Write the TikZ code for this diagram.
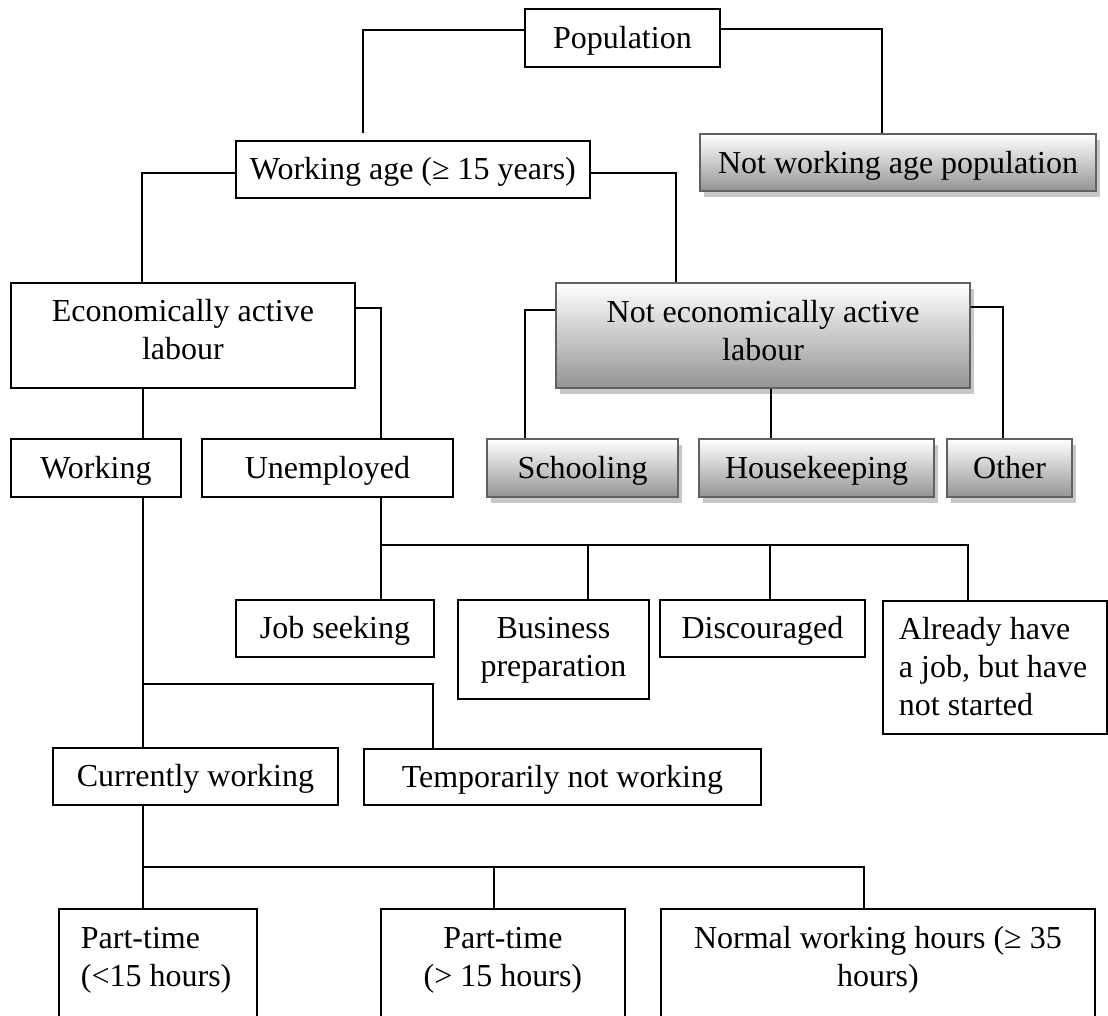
\documentclass[tikz,border=0pt]{standalone}
\usepackage{fontspec}
\setmainfont{Liberation Serif}
\usetikzlibrary{calc,shadows}
\begin{document}
\begin{tikzpicture}[x=0.5pt,y=-0.5pt,
  every node/.style={font=\fontsize{16pt}{19pt}\selectfont},
  sbox/.style={draw, line width=0.9pt, anchor=north west, inner sep=0pt, text height=10.5pt, text depth=0pt},
  mbox/.style={draw, line width=0.9pt, anchor=north west, inner ysep=0pt},
  shd/.style={top color=white, bottom color=black!42, draw=black!62, line width=1.1pt,
    drop shadow={shadow xshift=2pt, shadow yshift=-3pt, fill=black!22, opacity=1}},
  conn/.style={line width=0.9pt, line join=miter}]
\useasboundingbox (0,0) rectangle (1108,1016);
\clip (0,0) rectangle (1108,1016);

% boxes
\node[sbox, minimum width=97.5pt, minimum height=29pt] (pop) at (524,8) {Population};
\node[sbox, minimum width=177pt, minimum height=28.5pt] (wage) at (235,140) {Working age (≥ 15 years)};
\node[sbox, shd, minimum width=198pt, minimum height=28.5pt] (nwage) at (699,133) {Not working age population};

\node[mbox, inner xsep=6pt, text width=160pt, align=flush center, text height=19.5pt, text depth=33pt] (eco) at (10,282) {Economically active\\labour};
\node[mbox, shd, inner xsep=6pt, text width=195pt, align=flush center, text height=19.5pt, text depth=33pt] (necon) at (555,282) {Not economically active\\labour};

\node[sbox, minimum width=85pt, minimum height=29pt] (work) at (10,438) {Working};
\node[sbox, minimum width=125.5pt, minimum height=29pt] (unemp) at (201,438) {Unemployed};
\node[sbox, shd, minimum width=95.5pt, minimum height=29pt] (school) at (486,438) {Schooling};
\node[sbox, shd, minimum width=117.5pt, minimum height=29pt] (house) at (698,438) {Housekeeping};
\node[sbox, shd, minimum width=62.5pt, minimum height=29pt] (other) at (946,438) {Other};

\node[sbox, minimum width=99pt, minimum height=28.5pt] (jobs) at (235,599) {Job seeking};
\node[mbox, inner xsep=4pt, text width=87.5pt, align=flush center, text height=19.5pt, text depth=30pt] (bus) at (457,599) {Business\\preparation};
\node[sbox, minimum width=102.5pt, minimum height=28.5pt] (disc) at (659,599) {Discouraged};
\node[mbox, inner xsep=4pt, text width=104pt, align=flush left, text height=19.5pt, text depth=47pt] (alr) at (882,600) {\hspace*{4pt}Already have\\\hspace*{4pt}a job, but have\\\hspace*{4pt}not started};

\node[sbox, minimum width=142.5pt, minimum height=28.5pt] (curw) at (52,747) {Currently working};
\node[sbox, minimum width=198.5pt, minimum height=28pt] (temp) at (363,748) {Temporarily not working};

\node[mbox, inner xsep=11pt, text width=77pt, align=flush left, text height=20pt, text depth=38pt] (pt1) at (58,908) {Part-time\\(<15 hours)};
\node[mbox, inner xsep=6pt, text width=110pt, align=flush center, text height=20pt, text depth=38pt] (pt2) at (380,908) {Part-time\\(> 15 hours)};
\node[mbox, inner xsep=8pt, text width=201pt, align=flush center, text height=20pt, text depth=38pt] (norm) at (660,908) {Normal working hours (≥ 35\\hours)};

% connectors
\draw[conn] ($(pop.north west)+(0,22)$) -| ($(wage.north west)+(128,-7)$);
\draw[conn] ($(pop.north east)+(0,21)$) -| ($(nwage.north west)+(183,0)$);
\draw[conn] ($(wage.north west)+(0,33)$) -| ($(eco.north west)+(132,0)$);
\draw[conn] ($(wage.north east)+(0,33)$) -| ($(necon.north west)+(121,0)$);

\draw[conn] ($(eco.south west)+(133,0)$) -- ($(work.north west)+(133,0)$);
\draw[conn] ($(eco.north east)+(0,26)$) -| ($(unemp.north west)+(180,0)$);

\draw[conn] ($(necon.north west)+(0,28)$) -| ($(school.north west)+(39,0)$);
\draw[conn] ($(necon.south west)+(216,0)$) -- ($(house.north west)+(73,0)$);
\draw[conn] ($(necon.north east)+(0,25)$) -| ($(other.north west)+(57,0)$);

\coordinate (uj) at ($(unemp.south west)+(180,47)$);
\coordinate (busT) at ($(bus.north west)+(131,0)$);
\coordinate (discT) at ($(disc.north west)+(111,0)$);
\draw[conn] ($(unemp.south west)+(180,0)$) -- ($(jobs.north west)+(146,0)$);
\draw[conn] (uj) -| ($(alr.north west)+(86,0)$);
\draw[conn] (busT |- uj) -- (busT);
\draw[conn] (discT |- uj) -- (discT);

\coordinate (wj) at ($(work.south west)+(133,186)$);
\draw[conn] ($(work.south west)+(133,0)$) -- ($(curw.north west)+(91,0)$);
\draw[conn] (wj) -| ($(temp.north west)+(70,0)$);

\coordinate (cj) at ($(curw.south west)+(91,61)$);
\coordinate (pt2T) at ($(pt2.north west)+(114,0)$);
\draw[conn] ($(curw.south west)+(91,0)$) -- ($(pt1.north west)+(85,0)$);
\draw[conn] (cj) -| ($(norm.north west)+(204,0)$);
\draw[conn] (pt2T |- cj) -- (pt2T);
\end{tikzpicture}
\end{document}
